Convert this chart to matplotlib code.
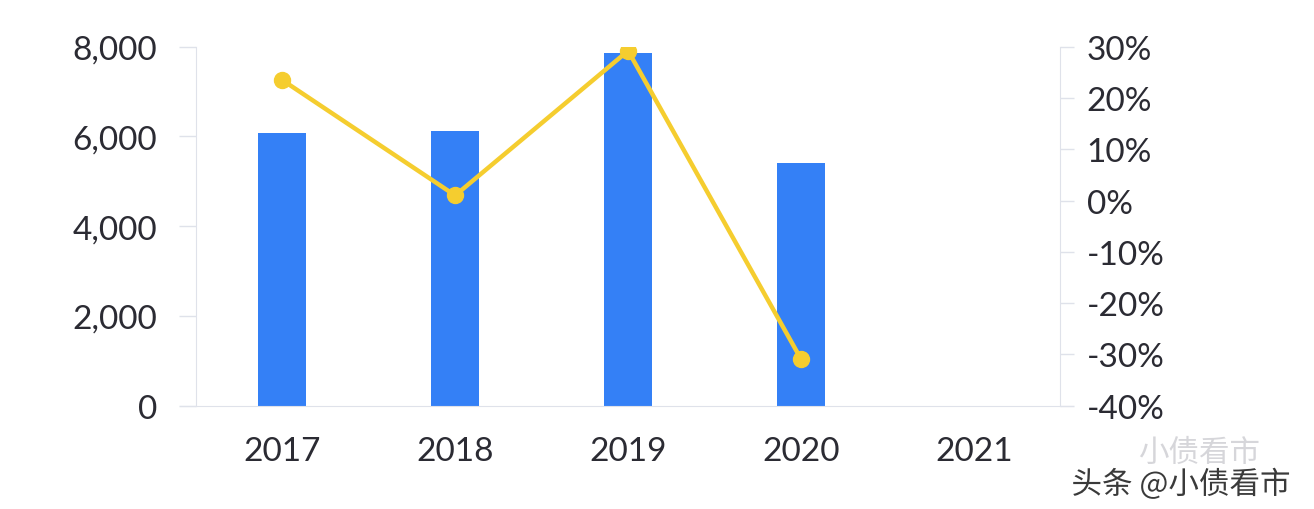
import matplotlib
matplotlib.use("Agg")
import matplotlib.pyplot as plt
import matplotlib.patheffects as pe
from matplotlib.ticker import FuncFormatter, FixedLocator

# Data
years = ["2017", "2018", "2019", "2020", "2021"]
amount = [6070, 6125, 7860, 5410]          # bars, left axis
growth = [23.5, 1.0, 29.2, -30.9]          # yoy %, right axis

left_ticks = [0, 2000, 4000, 6000, 8000]
right_ticks = [-40, -30, -20, -10, 0, 10, 20, 30]

BAR_COLOR = "#3480F6"
LINE_COLOR = "#F5CD2F"
TEXT_COLOR = "#2b2b33"
AXIS_COLOR = "#dfe2ea"
FONT = ["Lato", "DejaVu Sans"]

fig = plt.figure(figsize=(13.14, 5.10), dpi=100)
ax = fig.add_axes([0.149, 0.2025, 0.658, 0.704])
ax2 = ax.twinx()

x = list(range(len(years)))
ax.bar(x[:len(amount)], amount, width=0.28, color=BAR_COLOR, zorder=2)
ax.set_xlim(-0.5, len(years) - 0.5)
ax.set_ylim(0, 8000)
ax.yaxis.set_major_locator(FixedLocator(left_ticks))
ax.yaxis.set_major_formatter(FuncFormatter(lambda v, p: f"{int(v):,}"))

ax2.plot(x[:len(growth)], growth, color=LINE_COLOR, lw=3.2, marker="o",
         markersize=11.5, markerfacecolor=LINE_COLOR, markeredgecolor=LINE_COLOR,
         solid_capstyle="round", zorder=3)
ax2.set_ylim(-40, 30)
ax2.yaxis.set_major_locator(FixedLocator(right_ticks))
ax2.yaxis.set_major_formatter(FuncFormatter(lambda v, p: f"{int(v)}%"))

ax.set_xticks(x)
ax.set_xticklabels(years)

for a in (ax, ax2):
    for s in a.spines.values():
        s.set_visible(False)
ax.spines["left"].set_visible(True)
ax.spines["left"].set_color(AXIS_COLOR)
ax.spines["bottom"].set_visible(True)
ax.spines["bottom"].set_color(AXIS_COLOR)
ax.spines["bottom"].set_bounds(-0.5 - 16 / 172.8, len(years) - 0.5 + 13 / 172.8)
ax2.spines["right"].set_visible(True)
ax2.spines["right"].set_color(AXIS_COLOR)

ax.tick_params(axis="y", length=12, width=1, color=AXIS_COLOR, pad=16,
               labelsize=24, labelcolor=TEXT_COLOR)
ax.tick_params(axis="x", length=0, pad=22, labelsize=24, labelcolor=TEXT_COLOR)
ax2.tick_params(axis="y", length=10, width=1, color=AXIS_COLOR, pad=9,
                labelsize=24, labelcolor=TEXT_COLOR)
for lab in ax.get_xticklabels() + ax.get_yticklabels() + ax2.get_yticklabels():
    lab.set_family(FONT)
    lab.set_fontweight("normal")

ax.set_zorder(ax2.get_zorder() - 1)
ax.patch.set_visible(False)
ax2.patch.set_visible(False)

# Watermarks
cjk = ["Noto Sans CJK SC", "DejaVu Sans"]
fig.text(0.866, 0.11, "小债看市", family=cjk, fontsize=22, color="#d6d6da",
         ha="left", va="center")
fig.text(0.982, 0.048, "头条 @小债看市", family=cjk, fontsize=22, color="#3a3a3a",
         ha="right", va="center",
         path_effects=[pe.withStroke(linewidth=2.5, foreground="white")])

fig.savefig("out.png", dpi=100, facecolor="white")
